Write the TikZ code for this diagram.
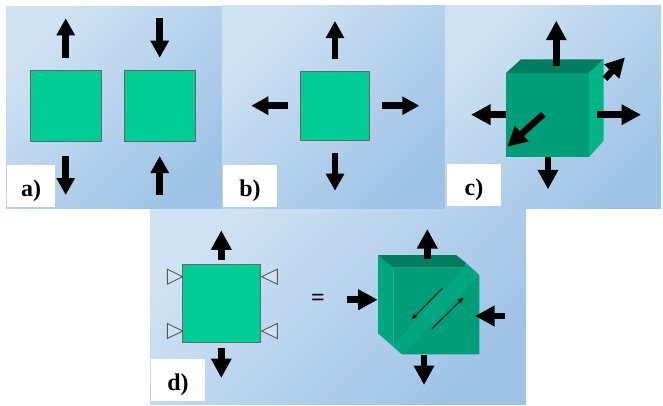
\documentclass[tikz,border=0pt]{standalone}
\usepackage{fontspec}
\setmainfont{Liberation Serif}
\usepackage{xcolor}
\usetikzlibrary{arrows.meta, positioning}
\definecolor{sqgreen}{HTML}{00CC96}
\definecolor{frontgreen}{HTML}{009E78}
\definecolor{topgreen}{HTML}{007D5E}
\definecolor{sidegreen}{HTML}{00B585}
\definecolor{leftgreen}{HTML}{00A67E}
\definecolor{bandgreen}{HTML}{00A680}
\definecolor{panellight}{HTML}{CFE2F3}
\definecolor{paneldark}{HTML}{9FC3E6}
\begin{document}
\begin{tikzpicture}[
  x=1pt, y=-1pt,
  every node/.style={font=\fontsize{24}{24}\selectfont\bfseries, align=center},
  panel/.style={top color=panellight, bottom color=paneldark, shading angle=45},
  sq/.style={draw=black!60, line width=0.8pt, fill=sqgreen, minimum size=71pt, inner sep=0pt},
  lab/.style={fill=white, minimum width=50pt, minimum height=42pt, inner sep=0pt,
              text height=20pt, text depth=0pt},
  arr/.style={-{Triangle[length=17pt,width=17.5pt]}, line width=6.5pt},
  bigarr/.style={-{Triangle[length=19.5pt,width=19.5pt]}, line width=6.5pt},
  thinarr/.style={-{Stealth[length=6pt,width=5pt]}, line width=0.8pt},
  opentip/.style={draw=black!65, line width=0.9pt, fill=panellight},
]
  % backgrounds
  \fill[white] (0,0) rectangle (663,405);
  \foreach \xa/\ya/\xb/\yb in {6/6/222/208, 222/5/445/208, 445/5/661/208, 150/209/526/404}
    \shade[panel] (\xa,\ya) rectangle (\xb,\yb);

  % a)
  \node[sq] (sqa) at (66,106.2) {};
  \node[sq] (sqb) at (160,106.2) {};
  \node[lab, minimum width=48pt] (laba) at (31,186) {a)};

  % b)
  \node[sq, minimum size=69pt] (sqc) at (334.8,105.7) {};
  \node[lab, minimum width=54pt] (labb) at (250,186) {b)};

  % c)
  \fill[frontgreen] (506,73) rectangle (589,157);
  \fill[topgreen] (506,73) -- (521,59.3) -- (603.7,59.3) -- (589,73) -- cycle;
  \fill[sidegreen] (589,73) -- (603.7,59.3) -- (603.7,140.7) -- (589,157) -- cycle;
  \node[lab, minimum width=54pt] (labc) at (474,185) {c)};

  % d)
  \node[sq, minimum size=78pt] (sqd) at (221.8,303.8) {};
  \node[lab, minimum width=54pt] (labd) at (178,380) {d)};
  \node (eq) at (318,300) {=};
  \foreach \ty in {276.7,331} {
    \draw[opentip] (182.7,\ty) -- (167.3,\ty-7.5) -- (167.3,\ty+7.5) -- cycle;
    \draw[opentip] (261.7,\ty) -- (277.3,\ty-7.5) -- (277.3,\ty+7.5) -- cycle;
  }
  \fill[leftgreen] (378,255) -- (393.3,267.7) -- (393.3,346.7) -- (378,333.3) -- cycle;
  \fill[topgreen] (378,255) -- (456,255) -- (465,262) -- (465,267.7) -- (393.3,267.7) -- cycle;
  \fill[frontgreen] (393.3,267.7) -- (465,267.7) -- (393.3,346.7) -- cycle;
  \fill[bandgreen] (465,267.7) -- (465,262) -- (479.3,275) -- (401.7,354.3) -- (393.3,346.7) -- cycle;
  \fill[frontgreen] (479.3,275) -- (479.3,354.3) -- (401.7,354.3) -- cycle;

  % arrow ends
  \foreach \name/\x/\y in {
    a1s/65.7/57.7, a1e/65.7/18.3, a2s/159.7/18.3, a2e/159.7/57.7,
    a3s/65.7/155.7, a3e/65.7/195, a4s/159.7/195, a4e/159.7/156,
    b1s/335/58.7, b1e/335/21, b2s/288/105.7, b2e/251.3/105.7,
    b3s/382/105.7, b3e/419.3/105.7, b4s/335/153.3, b4e/335/190.7,
    c1s/556.3/66, c1e/556.3/20.7, c2s/506/114.7, c2e/471/114.7,
    c3s/596.7/114.7, c3e/641/114.7, c4s/548/157.3, c4e/548/189.3,
    c5s/543.3/114.3, c5e/507.3/146.7, c6s/605/78.7, c6e/625/57.3,
    d1s/221.3/260, d1e/221.3/230.3, d2s/221.3/348, d2e/221.3/378,
    d3s/427.3/259.3, d3e/427.3/229, d4s/424/355, d4e/424/385,
    d5s/347.3/299.7, d5e/377.7/299.7, d6s/505/316, d6e/475/316,
    d7s/442.3/288.3, d7e/411.7/319.3, d8s/431.7/329, d8e/463.3/297.7}
    \coordinate (\name) at (\x,\y);

  \foreach \p in {a1,a2,a3,a4,b1,b2,b3,b4}
    \draw[arr] (\p s) -- (\p e);
  \foreach \p in {c1,c2,c3,c4,c5,c6,d1,d2,d3,d4,d5,d6}
    \draw[bigarr] (\p s) -- (\p e);
  \draw[thinarr] (d7s) -- (d7e);
  \draw[thinarr] (d8s) -- (d8e);

  \useasboundingbox (0,0) rectangle (663,405);
\end{tikzpicture}
\end{document}
